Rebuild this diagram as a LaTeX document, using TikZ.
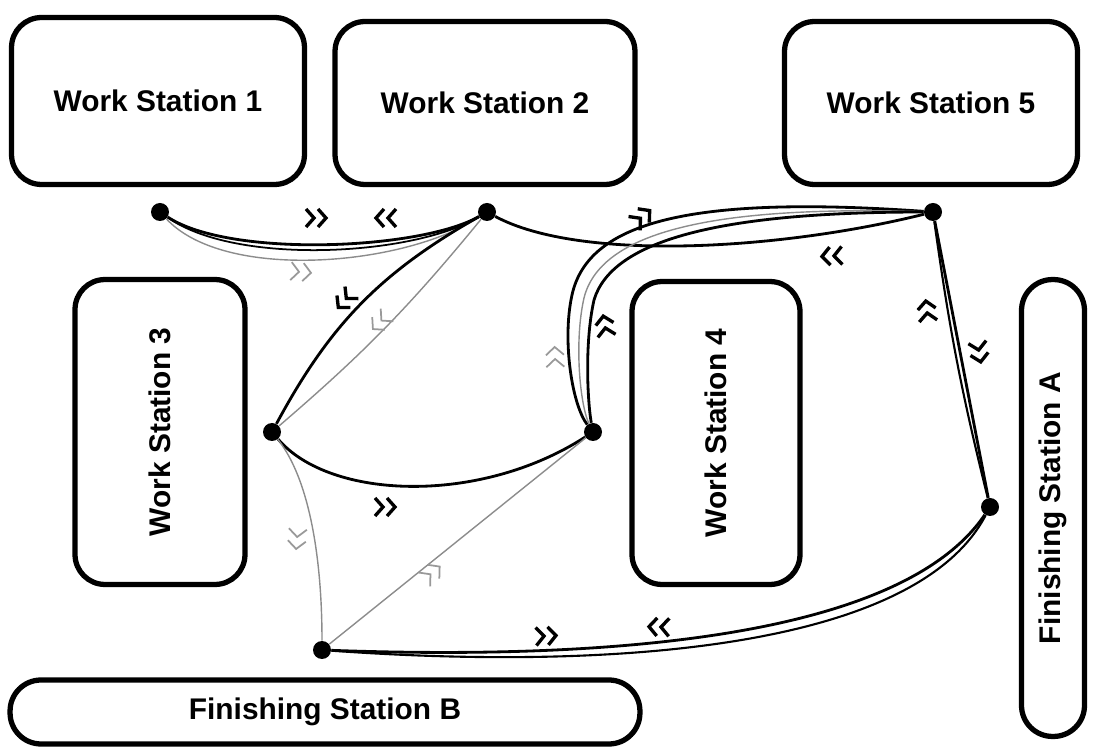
\documentclass[tikz,border=0pt]{standalone}
\usepackage{fontspec}
\setmainfont{Liberation Sans}
\newcommand{\boxLine}{3pt}
\newcommand{\flowLine}{1.6pt}
\newcommand{\faintLine}{0.8pt}
\tikzset{
  station/.style={draw, line width=\boxLine, rounded corners=0.6cm, inner sep=0pt,
    font=\bfseries\fontsize{17}{20}\selectfont},
  finishbox/.style={station, rounded corners=0.62cm},
  waypoint/.style={circle, fill=black, inner sep=0pt, minimum size=0.36cm},
  flow/.style={line width=\flowLine},
  faint/.style={line width=\faintLine, color=black!45},
  markdark/.style={line width=1.9pt},
  marklight/.style={line width=1pt, color=black!40},
  chevs/.pic={\draw (-10,-9) -- (-2,0) -- (-10,9) (2,-9) -- (10,0) -- (2,9);}
}
\begin{document}
\begin{tikzpicture}[x=0.02cm, y=-0.02cm]
\useasboundingbox (0,0) rectangle (1093,749);

% stations
\node[station, minimum width=5.86cm, minimum height=3.34cm] (ws1) at (158,101) {Work Station 1};
\node[station, minimum width=6cm, minimum height=3.26cm] (ws2) at (485,103) {Work Station 2};
\node[station, minimum width=5.86cm, minimum height=3.26cm] (ws5) at (931,103) {Work Station 5};
\node[station, rotate=90, minimum width=6.1cm, minimum height=3.4cm] (ws3) at (160,432) {Work Station 3};
\node[station, rotate=90, minimum width=6.06cm, minimum height=3.36cm] (ws4) at (716,433) {Work Station 4};
\node[finishbox, rotate=90, minimum width=9.14cm, minimum height=1.26cm] (fsa) at (1053,508) {Finishing Station A};
\node[finishbox, minimum width=12.6cm, minimum height=1.28cm] (fsb) at (325,712) {Finishing Station B};

% stops
\node[waypoint] (p1) at (160,212) {};
\node[waypoint] (p2) at (487,212) {};
\node[waypoint] (p5) at (933,212) {};
\node[waypoint] (p3) at (272,432) {};
\node[waypoint] (p4) at (593,432) {};
\node[waypoint] (pA) at (990,507) {};
\node[waypoint] (pB) at (322,650) {};

% routes
\draw[faint] (p1) .. controls (225,282) and (405,266) .. (p2);
\draw[flow] (p1) .. controls (230,258) and (420,250) .. (p2);
\draw[flow, line width=1pt] (p1) .. controls (236,266) and (414,256) .. (p2);
\draw[flow] (p2) .. controls (580,262) and (780,250) .. (p5);
\draw[flow] (p4) .. controls (572,405) and (562,340) .. (572,295) .. controls (588,222) and (690,195) .. (p5);
\draw[faint] (p4) .. controls (580,405) and (574,342) .. (584,298) .. controls (600,234) and (705,205) .. (p5);
\draw[flow] (p4) .. controls (588,405) and (584,345) .. (594,300) .. controls (612,240) and (720,212) .. (p5);
\draw[flow] (p3) to[bend left=16] (p2);
\draw[faint] (p3) to[bend right=5] (p2);
\draw[flow] (p3) .. controls (330,500) and (480,505) .. (p4);
\draw[faint] (p3) .. controls (310,480) and (322,560) .. (pB);
\draw[faint] (pB) -- (p4);
\draw[flow] (pB) .. controls (600,660) and (900,640) .. (pA);
\draw[flow, line width=1.2pt] (pB) .. controls (600,670) and (914,652) .. (pA);
\draw[flow] (p5) -- (pA);
\draw[flow, line width=1.2pt] (p5) to[bend right=3] (pA);

% direction marks
\pic[markdark] at (316,218) {chevs};
\pic[markdark, rotate=180] at (386,218) {chevs};
\pic[marklight, rotate=-5] at (301,272) {chevs};
\pic[markdark, rotate=228] at (345,300) {chevs};
\pic[marklight, rotate=225] at (380,322) {chevs};
\pic[marklight, rotate=92] at (555,357) {chevs};
\pic[markdark, rotate=100] at (605,326) {chevs};
\pic[markdark, rotate=40] at (642,217) {chevs};
\pic[markdark, rotate=183] at (832,256) {chevs};
\pic[markdark] at (385,507) {chevs};
\pic[marklight, rotate=265] at (297,539) {chevs};
\pic[marklight, rotate=40] at (432,573) {chevs};
\pic[markdark, rotate=3] at (546,636) {chevs};
\pic[markdark, rotate=178] at (659,627) {chevs};
\pic[markdark, rotate=97] at (927,311) {chevs};
\pic[markdark, rotate=-80] at (979,352) {chevs};
\end{tikzpicture}
\end{document}
